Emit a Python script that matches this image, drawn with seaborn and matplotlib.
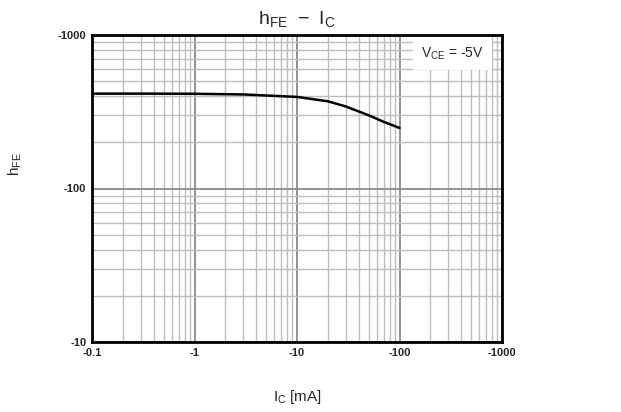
import numpy as np
import pandas as pd
import matplotlib
matplotlib.use("Agg")
import matplotlib.pyplot as plt
import matplotlib.ticker as mticker
import seaborn as sns

# Data (magnitudes; axis labels show negative values)
ic_ma = [0.1, 0.3, 1, 3, 10, 20, 30, 50, 70, 100]
hfe = [415, 415, 414, 410, 395, 370, 342, 300, 272, 248]
x_ticks = [0.1, 1, 10, 100, 1000]
x_labels = ["-0.1", "-1", "-10", "-100", "-1000"]
y_ticks = [10, 100, 1000]
y_labels = ["-10", "-100", "-1000"]

sns.set_style("white")
plt.rcParams['font.family'] = ['Liberation Sans', 'DejaVu Sans']

df = pd.DataFrame({"Ic": ic_ma, "hFE": hfe})

fig = plt.figure(figsize=(6.21, 4.12), dpi=100)
ax = fig.add_axes([92/621, 70/412, 410/621, 307/412])

ax.set_xscale("log")
ax.set_yscale("log")
ax.set_xlim(0.1, 1000)
ax.set_ylim(10, 1000)

ax.xaxis.set_minor_locator(mticker.LogLocator(base=10, subs=np.arange(2, 10)))
ax.yaxis.set_minor_locator(mticker.LogLocator(base=10, subs=np.arange(2, 10)))
ax.grid(which="major", color="#8a8a8a", linewidth=1.3)
ax.grid(which="minor", color="#bdbdbd", linewidth=1.0)
ax.set_axisbelow(True)

sns.lineplot(data=df, x="Ic", y="hFE", ax=ax, color="black", linewidth=1.8)

ax.set_xticks(x_ticks)
ax.set_xticklabels(x_labels, fontsize=8, fontweight="bold")
ax.set_yticks(y_ticks)
ax.set_yticklabels(y_labels, fontsize=8, fontweight="bold")
ax.xaxis.set_minor_formatter(mticker.NullFormatter())
ax.yaxis.set_minor_formatter(mticker.NullFormatter())
ax.tick_params(which="both", length=0, pad=4)

for s in ax.spines.values():
    s.set_color("black")
    s.set_linewidth(2)

ax.set_xlabel(r"$\mathregular{I_C}$ [mA]", fontsize=11)
ax.xaxis.set_label_coords(0.5, -0.15)
ax.set_ylabel(r"$\mathregular{h_{FE}}$", fontsize=11)
ax.yaxis.set_label_coords(-0.165, 0.58)
ax.set_title(r"$\mathregular{h_{FE}\ -\ I_C}$", fontsize=14, pad=8)

ax.text(0.955, 0.94, r"$\mathregular{V_{CE}}$ = -5V", transform=ax.transAxes,
        ha="right", va="center", fontsize=10,
        bbox=dict(facecolor="white", edgecolor="none", pad=6))

fig.savefig("out.png", dpi=100)
